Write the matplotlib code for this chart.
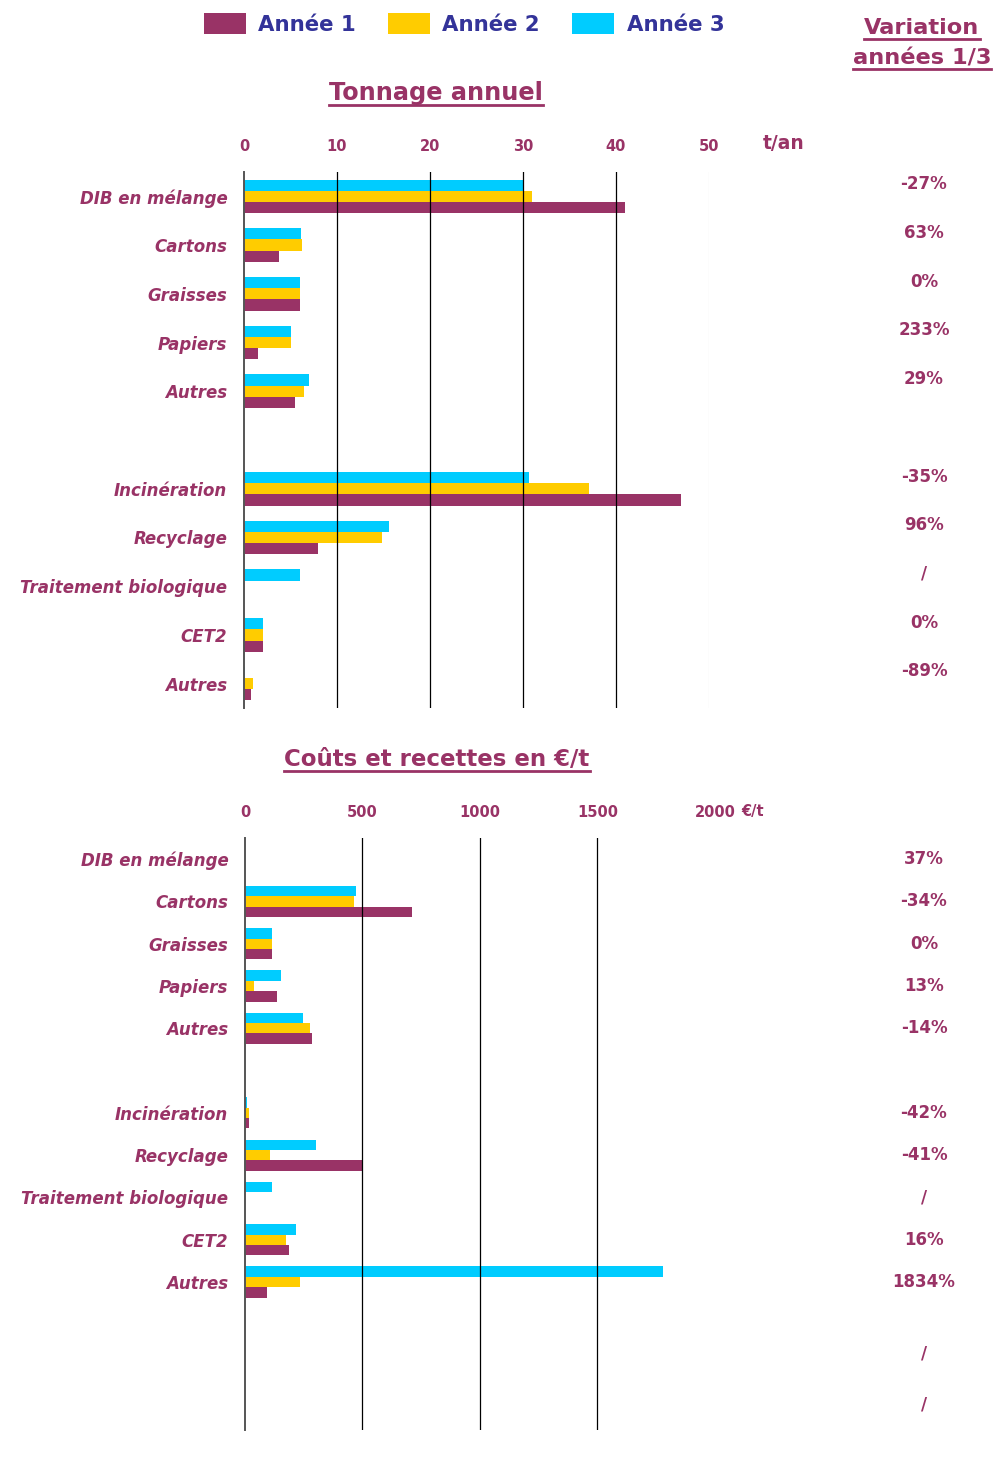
import numpy as np
import matplotlib
matplotlib.use("Agg")
import matplotlib.pyplot as plt
from matplotlib.lines import Line2D
from matplotlib.transforms import blended_transform_factory

MAROON = "#993366"
YELLOW = "#FFCC00"
CYAN = "#00CCFF"
NAVY = "#333399"

categories = ["DIB en mélange", "Cartons", "Graisses", "Papiers", "Autres", "",
              "Incinération", "Recyclage", "Traitement biologique", "CET2", "Autres"]
series_names = ["Année 1", "Année 2", "Année 3"]
series_colors = [MAROON, YELLOW, CYAN]

# Tonnage annuel (t/an)
tonnage_y1 = [41.0, 3.75, 6.0, 1.5, 5.5, 0, 47.0, 8.0, 0, 2.0, 0.75]
tonnage_y2 = [31.0, 6.2, 6.0, 5.0, 6.5, 0, 37.1, 14.8, 0, 2.0, 1.0]
tonnage_y3 = [30.0, 6.1, 6.0, 5.0, 7.0, 0, 30.6, 15.6, 6.0, 2.0, 0.08]
tonnage_var = ["-27%", "63%", "0%", "233%", "29%", "",
               "-35%", "96%", "/", "0%", "-89%"]
tonnage_ticks = [0, 10, 20, 30, 40, 50]

# Coûts et recettes (€/t)
cout_y1 = [0, 711, 115, 136, 285, 0, 17, 502, 0, 187, 92]
cout_y2 = [0, 464, 115, 38, 277, 0, 17, 106, 0, 174, 234]
cout_y3 = [0, 472, 115, 153, 247, 0, 10, 302, 115, 217, 1779]
cout_var = ["37%", "-34%", "0%", "13%", "-14%", "",
            "-42%", "-41%", "/", "16%", "1834%", "/", "/"]
cout_ticks = [0, 500, 1000, 1500, 2000]

W, H = 995, 1457
fig = plt.figure(figsize=(W / 100, H / 100), dpi=100)


def draw_panel(ax, series, ticks, n_slots, bar_h):
    y = np.arange(len(categories))
    for k, (vals, color, name) in enumerate(zip(series, series_colors, series_names)):
        ax.barh(y + (1 - k) * bar_h, vals, height=bar_h, color=color,
                label=name, zorder=2)
    ax.set_ylim(n_slots - 0.5, -0.5)
    ax.set_xlim(ticks[0], ticks[-1])
    ax.set_yticks(y)
    ax.set_yticklabels(categories, fontsize=12, fontweight="bold",
                       fontstyle="italic", color=MAROON)
    ax.xaxis.tick_top()
    ax.set_xticks(ticks)
    ax.set_xticklabels([str(t) for t in ticks], fontsize=10.5,
                       fontweight="bold", color=MAROON)
    ax.tick_params(axis="both", length=0)
    ax.tick_params(axis="x", pad=13)
    ax.tick_params(axis="y", pad=12)
    for side in ["top", "right", "bottom"]:
        ax.spines[side].set_visible(False)
    ax.spines["left"].set_color("#555555")
    ax.spines["left"].set_linewidth(1.4)
    ax.spines["left"].set_zorder(4)
    ax.set_axisbelow(False)
    ax.grid(axis="x", color="black", linewidth=0.9)
    lines = ax.xaxis.get_gridlines()
    lines[0].set_visible(False)
    return lines


# top panel
ax1 = fig.add_axes([244 / W, 1 - 708 / H, (709 - 244) / W, (708 - 172) / H])
g1 = draw_panel(ax1, [tonnage_y1, tonnage_y2, tonnage_y3], tonnage_ticks, 11, 0.23)
g1[-1].set_color("#eeeeee")
ax1.text(55.8, 1 + 19 / 536, "t/an", transform=blended_transform_factory(ax1.transData, ax1.transAxes),
         fontsize=13.5, fontweight="bold", color=MAROON, ha="left", va="bottom")

# bottom panel
ax2 = fig.add_axes([245 / W, 1 - 1430 / H, (715 - 245) / W, (1430 - 838) / H])
g2 = draw_panel(ax2, [cout_y1, cout_y2, cout_y3], cout_ticks, 14, 0.245)
g2[-1].set_visible(False)
ax2.text(2110, 1 + 19 / 592, "€/t", transform=blended_transform_factory(ax2.transData, ax2.transAxes),
         fontsize=10.5, fontweight="bold", color=MAROON, ha="left", va="bottom")

# variation column
var_x = 924 / W
tr1 = blended_transform_factory(fig.transFigure, ax1.transData)
for i, s in enumerate(tonnage_var):
    ax1.text(var_x, i - 0.25, s, transform=tr1, ha="center", va="center",
             fontsize=12, fontweight="bold", color=MAROON, clip_on=False)
tr2 = blended_transform_factory(fig.transFigure, ax2.transData)
cout_rows = list(range(11)) + [11.7, 12.9]
for r, s in zip(cout_rows, cout_var):
    ax2.text(var_x, r, s, transform=tr2, ha="center", va="center",
             fontsize=12, fontweight="bold", color=MAROON, clip_on=False)

# legend
handles, labels = ax1.get_legend_handles_labels()
leg = fig.legend(handles, labels, loc="center", bbox_to_anchor=(464 / W, 1 - 24 / H),
                 ncol=3, frameon=False, handlelength=1.97,
                 handleheight=1.1, handletextpad=0.6, columnspacing=1.5,
                 borderpad=0, prop={"weight": "bold", "size": 15.3})
for t in leg.get_texts():
    t.set_color(NAVY)

# underlined titles (baseline positions in pixels)
titles = [
    ("Tonnage annuel", 436, 100, 17.3),
    ("Coûts et recettes en €/t", 437, 766, 16.5),
    ("Variation", 922, 34, 16.2),
    ("années 1/3", 922, 64, 16.2),
]
title_artists = []
for s, x, yb, size in titles:
    t = fig.text(x / W, 1 - yb / H, s, ha="center", va="baseline",
                 fontsize=size, fontweight="bold", color=MAROON)
    title_artists.append((t, yb))

fig.canvas.draw()
for t, yb in title_artists:
    bb = t.get_window_extent()
    yl = 1 - (yb + 5) / H
    fig.add_artist(Line2D([bb.x0 / W, bb.x1 / W], [yl, yl], color=MAROON,
                          linewidth=2.0, transform=fig.transFigure))

fig.savefig("out.png", dpi=100)
